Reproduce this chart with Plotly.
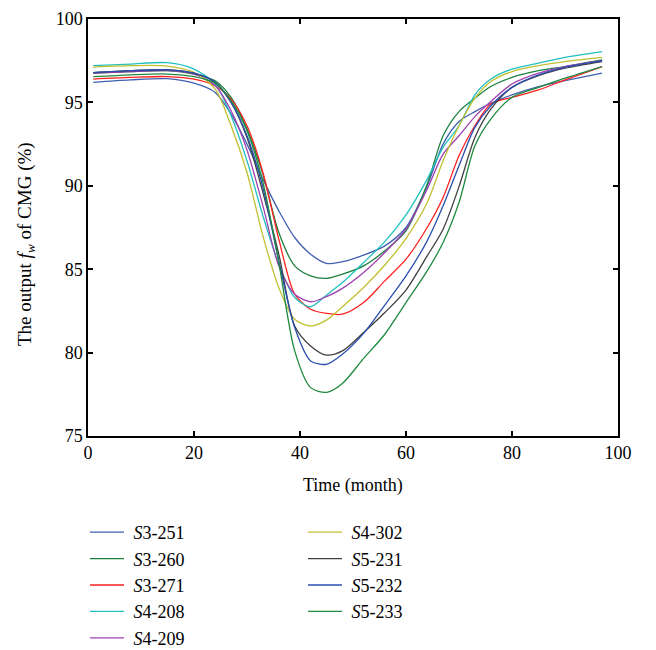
import plotly.graph_objects as go

months = [1, 8, 15, 20, 24, 27, 30, 33, 36, 39, 42, 45, 48, 52, 56, 60, 64, 67, 70, 73, 76, 80, 85, 90, 97]

names = ["S3-251", "S3-260", "S3-271", "S4-208", "S4-209", "S4-302", "S5-231", "S5-232", "S5-233"]

s3_251 = [96.2, 96.35, 96.42, 96.15, 95.6, 94.3, 92.5, 90.4, 88.5, 86.9, 85.9, 85.35, 85.45, 85.85, 86.4, 87.5, 90.0, 92.5, 93.85, 94.45, 94.95, 95.45, 95.95, 96.3, 96.75]
s3_260 = [96.75, 96.85, 96.9, 96.7, 96.3, 95.3, 93.4, 90.7, 87.2, 85.2, 84.6, 84.45, 84.7, 85.2, 86.1, 87.3, 90.1, 93.0, 94.45, 95.25, 95.95, 96.5, 96.9, 97.15, 97.55]
s3_271 = [96.4, 96.5, 96.55, 96.4, 96.0, 95.2, 93.6, 90.8, 86.8, 83.5, 82.6, 82.35, 82.3, 83.0, 84.3, 85.6, 87.5, 89.3, 91.8, 93.6, 94.9, 95.3, 95.75, 96.35, 97.15]
s4_208 = [97.2, 97.3, 97.38, 97.0, 96.1, 94.2, 91.5, 88.2, 85.3, 83.3, 82.75, 83.45, 84.2, 85.4, 86.65, 88.25, 90.4, 92.3, 93.6, 95.45, 96.4, 97.0, 97.35, 97.7, 98.05]
s4_209 = [96.75, 96.85, 96.9, 96.7, 96.0, 94.5, 92.15, 88.8, 85.2, 83.5, 83.05, 83.35, 83.85, 84.8, 86.0, 87.4, 89.8, 91.9, 93.0, 94.15, 95.05, 96.1, 96.75, 97.15, 97.5]
s4_302 = [97.12, 97.2, 97.18, 96.8, 95.8, 93.6, 90.8, 87.0, 83.9, 82.0, 81.6, 81.95, 82.75, 83.9, 85.25, 86.85, 89.0, 91.5, 93.6, 95.25, 96.25, 96.85, 97.2, 97.45, 97.7]
s5_231 = [96.78, 96.9, 96.95, 96.75, 96.2, 95.0, 92.9, 89.6, 85.9, 81.6, 80.4, 79.85, 80.1, 81.2, 82.4, 83.75, 85.8, 87.4, 89.95, 92.9, 94.6, 95.9, 96.6, 97.05, 97.45]
s5_232 = [96.78, 96.9, 96.95, 96.75, 96.2, 95.0, 93.0, 89.9, 85.5, 81.5, 79.5, 79.3, 79.9, 81.15, 82.85, 84.6, 86.7, 88.8, 91.2, 93.5, 94.8, 95.9, 96.65, 97.1, 97.5]
s5_233 = [96.54, 96.65, 96.7, 96.55, 96.15, 95.1, 93.3, 90.2, 85.4, 80.1, 77.9, 77.62, 78.15, 79.65, 81.1, 83.0, 84.9, 86.6, 89.0, 92.4, 94.0, 95.3, 95.9, 96.45, 97.15]

series = [s3_251, s3_260, s3_271, s4_208, s4_209, s4_302, s5_231, s5_232, s5_233]
colors = ["#3f5fb0", "#1d8040", "#ff2020", "#22c0c0", "#a040b0", "#c0c030", "#404040", "#2a4fb0", "#1f8a3f"]

x_ticks = [0, 20, 40, 60, 80, 100]
y_ticks = [75, 80, 85, 90, 95, 100]

fig = go.Figure()
for i, (nm, ys, col) in enumerate(zip(names, series, colors)):
    label = "&nbsp;<i>" + nm[0] + "</i>" + nm[1:]
    fig.add_trace(go.Scatter(
        x=months, y=ys, mode="lines", name=label,
        line=dict(color=col, width=1.3, shape="spline", smoothing=0.8),
        legendgroup=nm,
        legend="legend" if i < 5 else "legend2",
    ))

font_family = "Liberation Serif, Times New Roman, serif"
axis_common = dict(showline=True, linecolor="black", linewidth=1.5, mirror="ticks",
                   ticks="inside", ticklen=5, tickwidth=1.5, tickcolor="black",
                   showgrid=False, zeroline=False,
                   tickfont=dict(family=font_family, size=18, color="black"))

leg_common = dict(xref="container", yref="container", xanchor="left", yanchor="top",
                  bgcolor="rgba(0,0,0,0)", font=dict(family=font_family, size=18),
                  tracegroupgap=0, traceorder="grouped", itemwidth=34)

fig.update_layout(
    width=656, height=650,
    margin=dict(l=88, r=38, t=19, b=214, autoexpand=False),
    plot_bgcolor="white", paper_bgcolor="white",
    font=dict(family=font_family, size=18, color="black"),
    xaxis=dict(range=[0, 100], tickvals=x_ticks, **axis_common),
    yaxis=dict(range=[75, 100], tickvals=y_ticks, **axis_common),
    legend=dict(x=85 / 656, y=1 - 514 / 650, **leg_common),
    legend2=dict(x=303 / 656, y=1 - 514 / 650, **leg_common),
    annotations=[
        dict(text="Time (month)", xref="paper", yref="paper", x=0.5, y=(436 - 485) / 417,
             xanchor="center", yanchor="middle", showarrow=False,
             font=dict(family=font_family, size=18, color="black")),
        dict(text="The output <i>f</i><sub><i>w</i></sub> of CMG (%)", xref="paper", yref="paper",
             x=(26 - 88) / 530, y=(436 - 244) / 417, textangle=-90, xanchor="center", yanchor="middle",
             showarrow=False, font=dict(family=font_family, size=19, color="black")),
    ],
)

fig.write_html("out.html")
